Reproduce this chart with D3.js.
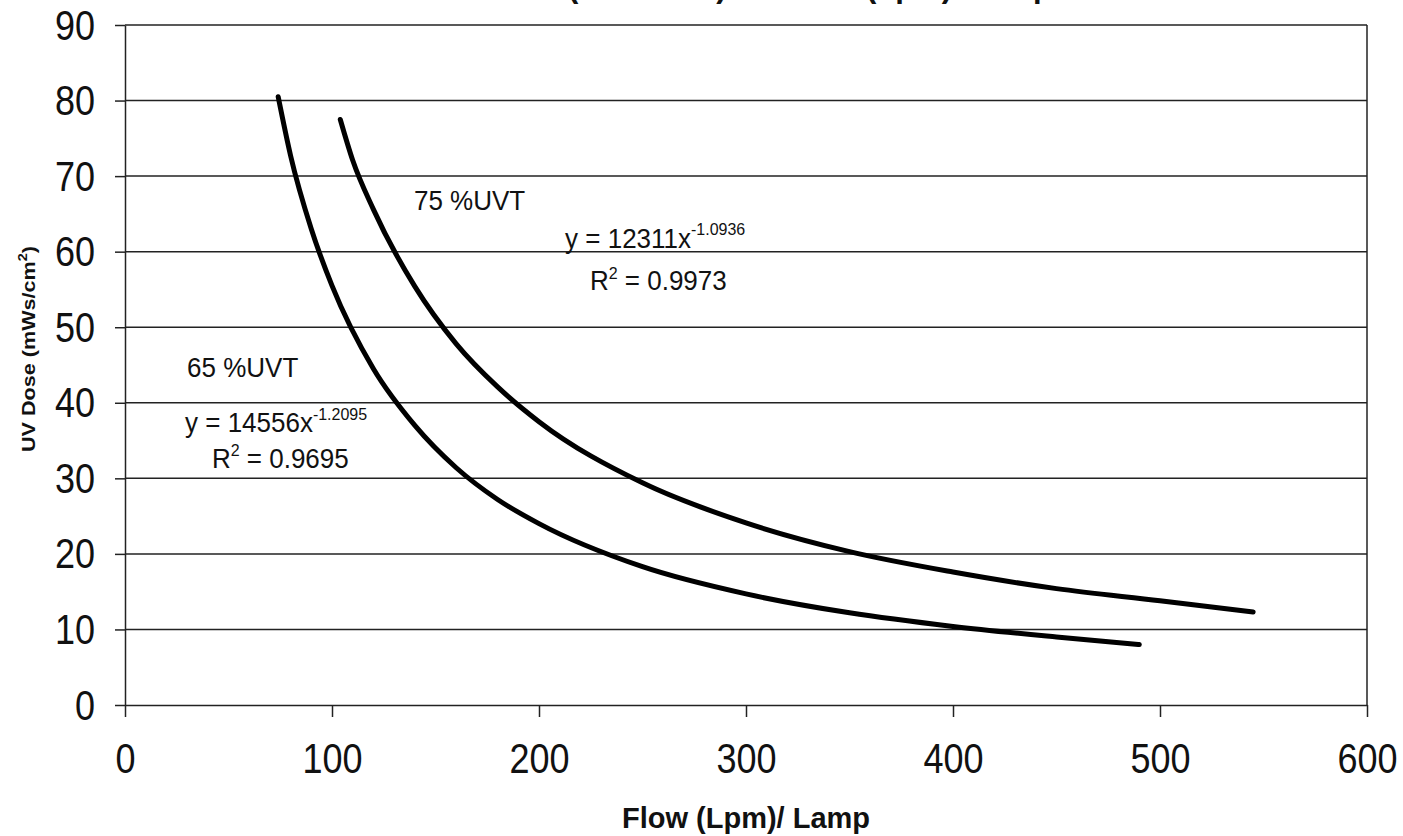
<!DOCTYPE html>
<html>
<head>
<meta charset="utf-8">
<script src="https://cdn.jsdelivr.net/npm/d3@7"></script>
<style>
  body { margin: 0; background: white; }
  text { font-family: "Liberation Sans", Arial, sans-serif; fill: #111; }
</style>
</head>
<body>
<div id="viz"></div>
<script>
// values
const flow65 = [74, 80, 90, 100, 120, 140, 160, 180, 200, 250, 300, 350, 400, 450, 490];
const dose65 = [80.5, 72.7, 63, 55.5, 44.5, 37, 31.4, 27.2, 24, 18.3, 14.7, 12.2, 10.4, 9, 8];
const flow75 = [104, 110, 120, 140, 160, 180, 200, 250, 300, 350, 400, 450, 500, 545];
const dose75 = [77.5, 72.1, 65.6, 55.4, 47.8, 42.1, 37.5, 29.4, 24.1, 20.3, 17.6, 15.4, 13.8, 12.3];

const xTicks = [0, 100, 200, 300, 400, 500, 600];
const yTicks = [0, 10, 20, 30, 40, 50, 60, 70, 80, 90];

const series = [
    { name: "65 %UVT", eq: "y = 14556x", exp: "-1.2095", r2: "0.9695", flow: flow65, dose: dose65 },
    { name: "75 %UVT", eq: "y = 12311x", exp: "-1.0936", r2: "0.9973", flow: flow75, dose: dose75 }
];

const width = 1403, height = 836;
const margin = { top: 25, right: 36, bottom: 131, left: 125 };

const svg = d3.select("#viz").append("svg")
    .attr("width", width)
    .attr("height", height)
    .style("background", "white");

const x = d3.scaleLinear().domain([0, 600]).range([margin.left, width - margin.right]);
const y = d3.scaleLinear().domain([0, 90]).range([height - margin.bottom, margin.top]);

// gridlines
svg.append("g")
    .selectAll("line")
    .data(yTicks.filter(d => d > 0))
    .enter().append("line")
    .attr("x1", x(0)).attr("x2", x(600))
    .attr("y1", d => y(d)).attr("y2", d => y(d))
    .attr("stroke", "#222")
    .attr("stroke-width", 1.5);

// right border
svg.append("line")
    .attr("x1", x(600)).attr("x2", x(600))
    .attr("y1", y(90)).attr("y2", y(0))
    .attr("stroke", "#222")
    .attr("stroke-width", 1.5);

// y axis
const yAxis = svg.append("g")
    .attr("transform", `translate(${margin.left},0)`)
    .call(d3.axisLeft(y).tickValues(yTicks).tickSizeInner(10).tickSizeOuter(0).tickPadding(20));

yAxis.selectAll("text")
    .attr("y", 0).attr("dy", null)
    .attr("transform", "translate(0,14) scale(1,1.16)")
    .style("font-size", "36px");

// x axis
const xAxis = svg.append("g")
    .attr("transform", `translate(0,${height - margin.bottom})`)
    .call(d3.axisBottom(x).tickValues(xTicks).tickSizeInner(12).tickSizeOuter(0));

xAxis.selectAll("text")
    .attr("y", 0).attr("dy", null)
    .attr("transform", "translate(0,68) scale(1,1.16)")
    .style("font-size", "36px");

svg.selectAll(".domain, .tick line").attr("stroke", "#222").attr("stroke-width", 1.5);

// curves
const line = d3.line()
    .x(d => x(d[0]))
    .y(d => y(d[1]))
    .curve(d3.curveMonotoneX);

series.forEach(s => {
    svg.append("path")
        .datum(s.flow.map((f, i) => [f, s.dose[i]]))
        .attr("d", line)
        .attr("fill", "none")
        .attr("stroke", "#000")
        .attr("stroke-width", 5)
        .attr("stroke-linecap", "round");
});

// annotations (trendline labels)
const labelPos = [
    { name: [30, 43.4], eq: [29, 36.1], r2: [42, 31.4] },
    { name: [139.6, 65.5], eq: [212.6, 60.5], r2: [224.6, 54.9] }
];

function place(px, py, sy) {
    return svg.append("g").attr("transform", `translate(${px},${py}) scale(1,${sy})`);
}

series.forEach((s, i) => {
    const p = labelPos[i];
    place(x(p.name[0]), y(p.name[1]), 1.05).append("text")
        .style("font-size", "26px")
        .text(s.name);

    const eq = place(x(p.eq[0]), y(p.eq[1]), 1.05).append("text")
        .style("font-size", "26px");
    eq.append("tspan").text(s.eq);
    eq.append("tspan").attr("dy", -12).style("font-size", "16px").text(s.exp);

    const r2 = place(x(p.r2[0]), y(p.r2[1]), 1.05).append("text")
        .style("font-size", "26px");
    r2.append("tspan").text("R");
    r2.append("tspan").attr("dy", -11).style("font-size", "16px").text("2");
    r2.append("tspan").attr("dy", 11).text(" = " + s.r2);
});

// axis titles
svg.append("text")
    .attr("x", 746)
    .attr("y", 828)
    .attr("text-anchor", "middle")
    .style("font-size", "29px")
    .style("font-weight", "bold")
    .text("Flow (Lpm)/ Lamp");

const yTitle = svg.append("g")
    .attr("transform", "translate(35,349) scale(1,1.2) rotate(-90)")
    .append("text")
    .attr("text-anchor", "middle")
    .style("font-size", "18px")
    .style("font-weight", "bold");
yTitle.append("tspan").text("UV Dose (mWs/cm");
yTitle.append("tspan").attr("dy", -8).style("font-size", "12px").text("2");
yTitle.append("tspan").attr("dy", 8).text(")");

// chart title, mostly cut off at the top edge of the scan
svg.append("text")
    .attr("x", 742)
    .attr("y", -3)
    .attr("text-anchor", "middle")
    .style("font-size", "31px")
    .style("font-weight", "bold")
    .text("UV Dose (mWs/cm²) vs. Flow (Lpm)/ Lamp");
</script>
</body>
</html>
